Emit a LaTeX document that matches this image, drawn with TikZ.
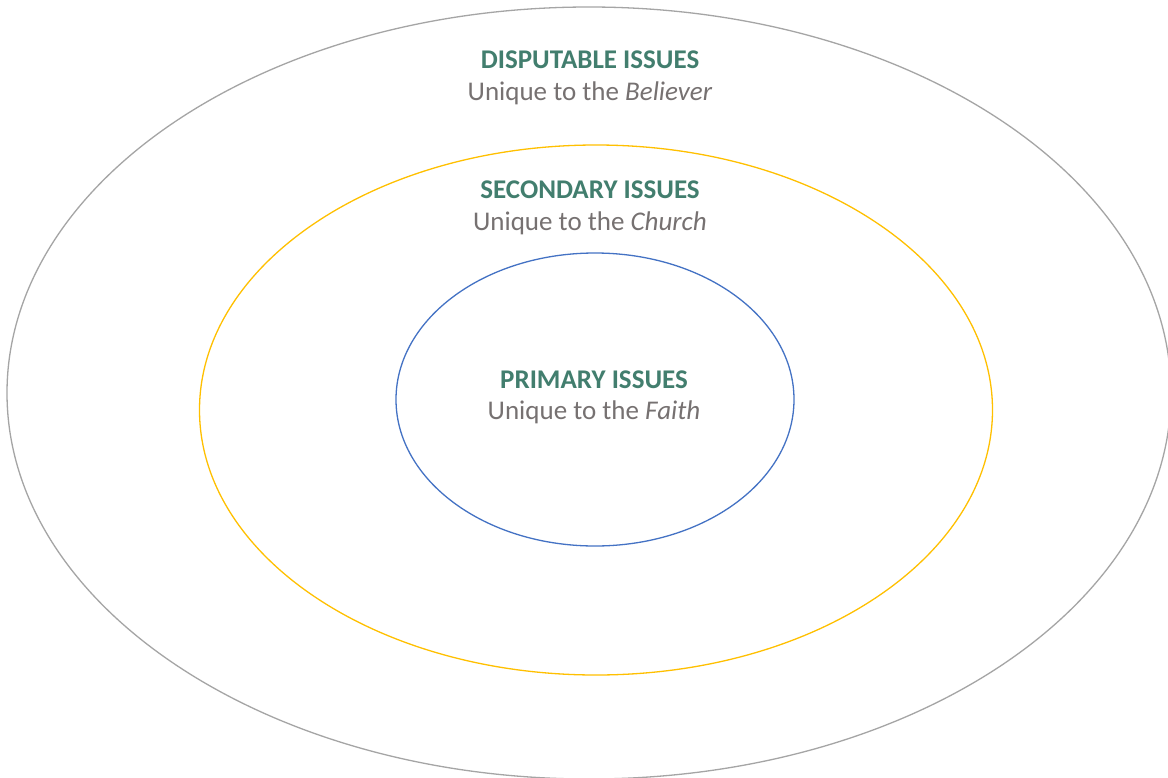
\documentclass[tikz,border=0pt]{standalone}
\usepackage{fontspec}
\setmainfont{Carlito}
\usepackage{tikz}
\usetikzlibrary{shapes.geometric, positioning}
\definecolor{issueteal}{RGB}{66,126,110}
\definecolor{issuegray}{RGB}{118,113,113}
\definecolor{ringgray}{RGB}{165,165,165}
\definecolor{ringgold}{RGB}{255,192,0}
\definecolor{ringblue}{RGB}{68,114,196}
\tikzset{
  ring/.style = {ellipse, draw, inner sep=0pt, line width=1.3pt},
  title/.style = {font=\fontsize{27}{32}\selectfont\bfseries, text=issueteal,
    inner sep=0pt},
  sub/.style = {font=\fontsize{27}{32}\selectfont, text=issuegray,
    inner sep=0pt}
}

\begin{document}
\begin{tikzpicture}[x=1pt, y=-1pt]
\useasboundingbox (0,0) rectangle (1168,777);
\clip (0,0) rectangle (1168,777);
\fill[white] (0,0) rectangle (1168,777);
% the three rings
\node [ring, draw=ringgray, minimum width=1164pt, minimum height=772pt]
  (outer) at (589,393) {};
\node [ring, draw=ringgold, minimum width=793pt, minimum height=530pt]
  (middle) at (596,410) {};
\node [ring, draw=ringblue, minimum width=398pt, minimum height=293pt]
  (inner) at (595,399.5) {};
% labels
\node [title] (disputable) at (590,60) {DISPUTABLE ISSUES};
\node [sub] (believer) at (590,93) {Unique to the \textit{Believer}};
\node [title] (secondary) at (590,190) {SECONDARY ISSUES};
\node [sub] (church) at (590,223) {Unique to the \textit{Church}};
\node [title] (primary) at (594,380) {PRIMARY ISSUES};
\node [sub] (faith) at (594,412) {Unique to the \textit{Faith}};
\end{tikzpicture}
\end{document}
